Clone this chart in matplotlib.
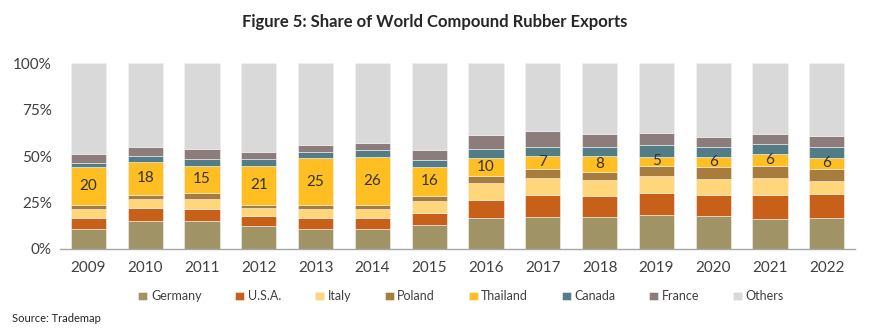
import matplotlib
matplotlib.use("Agg")
import matplotlib.pyplot as plt
import numpy as np

years = ["2009", "2010", "2011", "2012", "2013", "2014", "2015",
         "2016", "2017", "2018", "2019", "2020", "2021", "2022"]
germany  = [10.6, 15.1, 15.1, 12.2, 10.6, 10.6, 12.9, 16.5, 17.4, 17.1, 18.3, 17.9, 16.2, 16.5]
usa      = [6.3, 7.0, 6.4, 5.7, 6.1, 6.1, 6.5, 9.7, 11.7, 11.6, 12.0, 11.0, 12.9, 13.1]
italy    = [4.5, 4.8, 5.4, 4.0, 4.7, 4.9, 6.6, 9.5, 9.0, 8.6, 9.0, 8.8, 9.0, 7.2]
poland   = [2.3, 2.2, 3.2, 2.0, 2.1, 2.1, 2.5, 3.6, 4.8, 4.3, 5.2, 6.3, 6.8, 6.4]
thailand = [20.3, 17.9, 14.8, 21.0, 25.4, 25.8, 15.7, 9.9, 7.3, 8.4, 5.2, 5.7, 6.1, 5.6]
canada   = [2.5, 3.1, 3.7, 3.4, 3.4, 3.6, 3.6, 4.5, 4.9, 5.1, 6.1, 5.1, 5.7, 6.2]
france   = [4.8, 5.0, 5.2, 3.8, 3.6, 3.8, 5.5, 7.5, 8.1, 6.6, 6.7, 5.7, 4.9, 5.7]
thai_labels = ["20", "18", "15", "21", "25", "26", "16", "10", "7", "8", "5", "6", "6", "6"]

series = ["Germany", "U.S.A.", "Italy", "Poland", "Thailand", "Canada", "France"]
colors = ["#A09467", "#C8601A", "#FFD77A", "#A87C3C", "#FFBE21", "#527D87", "#8C7C7B", "#D9D9D9"]

plt.rcParams['font.family'] = ['Lato', 'DejaVu Sans']

fig = plt.figure(figsize=(8.7, 3.32), dpi=100)
ax = fig.add_axes([0.069, 0.25, 0.914, 0.56])

data = [germany, usa, italy, poland, thailand, canada, france]
x = np.arange(len(years))
bottom = np.zeros(len(years))
width = 0.62
for name, vals, c in zip(series, data, colors):
    v = np.array(vals) / 100.0
    ax.bar(x, v, width, bottom=bottom, color=c, label=name, edgecolor="#f2f2f2", linewidth=0.4)
    if name == "Thailand":
        for xi, b, h, lab in zip(x, bottom, v, thai_labels):
            ax.text(xi, b + h / 2, lab, ha="center", va="center", fontsize=11, color="#333333")
    bottom = bottom + v
others = 1.0 - bottom
ax.bar(x, others, width, bottom=bottom, color=colors[-1], label="Others", edgecolor="#f2f2f2", linewidth=0.4)

ax.set_xlim(-0.5, len(years) - 0.5)
ax.set_ylim(0, 1)
ax.set_yticks([0, 0.25, 0.5, 0.75, 1.0])
ax.set_yticklabels(["0%", "25%", "50%", "75%", "100%"])
ax.set_xticks(x)
ax.set_xticklabels(years)
ax.tick_params(axis="both", length=0, labelsize=11, colors="#404040", pad=6)
ax.tick_params(axis="x", pad=9)
for s in ["top", "right", "left"]:
    ax.spines[s].set_visible(False)
ax.spines["bottom"].set_color("#A6A6A6")
ax.spines["bottom"].set_linewidth(1.0)

fig.text(0.5, 0.935, "Figure 5: Share of World Compound Rubber Exports", ha="center", va="center",
         fontsize=12, fontweight="bold", color="#262626")

leg = fig.legend(loc="center", bbox_to_anchor=(0.53, 0.107), ncol=8, frameon=False, fontsize=9,
                 handlelength=0.7, handleheight=0.7, handletextpad=0.3, columnspacing=2.7)
for t in leg.get_texts():
    t.set_color("#404040")

fig.text(0.014, 0.04, "Source: Trademap", ha="left", va="center", fontsize=8, color="#262626")

fig.savefig("out.png", dpi=100)
